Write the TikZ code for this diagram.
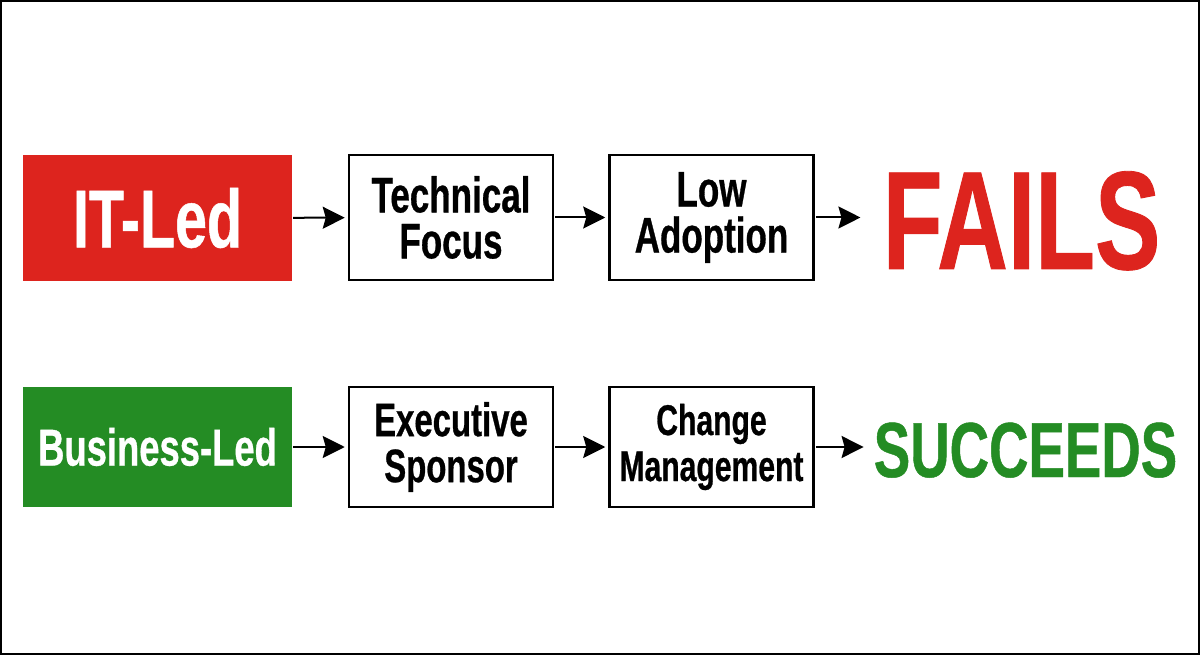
\documentclass[tikz,border=0pt]{standalone}
\usepackage{fontspec}
\newfontfamily\condfont{Liberation Sans}[FakeStretch=0.7, FakeBold=0.6]
\usepackage{tikz}
\usetikzlibrary{arrows.meta,positioning}
\definecolor{itred}{RGB}{221,36,30}
\definecolor{bizgreen}{RGB}{36,140,36}
\tikzset{
  leadbox/.style={minimum width=269pt, inner sep=0pt, text=white,
    font=\condfont\bfseries},
  stepbox/.style={draw, line width=2.5pt, minimum width=204pt,
    minimum height=125pt, inner sep=0pt, align=center,
    font=\condfont\bfseries\fontsize{#1}{46}\selectfont},
  stepbox/.default=50,
  outcome/.style={inner sep=0pt, anchor=base, font=\condfont\bfseries},
  flowarrow/.style={line width=2pt, -{Stealth[length=22pt,width=22pt,inset=3pt]},
    shorten <=1pt, shorten >=3pt}
}

\begin{document}
\begin{tikzpicture}[x=1pt,y=-1pt]
    \useasboundingbox (0,0) rectangle (1200,655);
    \draw[line width=2pt] (1,1) rectangle (1199,654);

    % Top row: IT-led path
    \node[leadbox, fill=itred, minimum height=126pt] (itled) at (157.5,218)
      {\fontsize{82}{82}\selectfont IT-Led};
    \node[stepbox] (techfocus) at (451,217.5) {Technical\\Focus};
    \node[stepbox] (lowadopt) at (711.5,217.5) {Low\\Adoption\smash{\vphantom{p}}};
    \node[outcome, text=itred] (fails) at (1021.5,269)
      {\fontsize{140}{140}\selectfont FAILS};

    \draw[flowarrow] (itled) -- (techfocus);
    \draw[flowarrow] (techfocus) -- (lowadopt);
    \draw[flowarrow, shorten >=22pt] (lowadopt.east) -- (lowadopt.east -| fails.west);

    % Bottom row: business-led path
    \node[leadbox, fill=bizgreen, minimum height=120pt] (bizled) at (157.5,447)
      {\fontsize{52}{52}\selectfont Business-Led};
    \node[stepbox=47, minimum height=120pt] (execspon) at (451,447)
      {Executive\\Sponsor};
    \node[stepbox=43, minimum height=120pt] (changemgmt) at (711.5,447)
      {Change\\Management};
    \node[outcome, text=bizgreen] (succeeds) at (1025.5,477)
      {\fontsize{78}{78}\selectfont SUCCEEDS};

    \draw[flowarrow] (bizled) -- (execspon);
    \draw[flowarrow] (execspon) -- (changemgmt);
    \draw[flowarrow, shorten >=10pt] (changemgmt.east) -- (changemgmt.east -| succeeds.west);
\end{tikzpicture}
\end{document}
